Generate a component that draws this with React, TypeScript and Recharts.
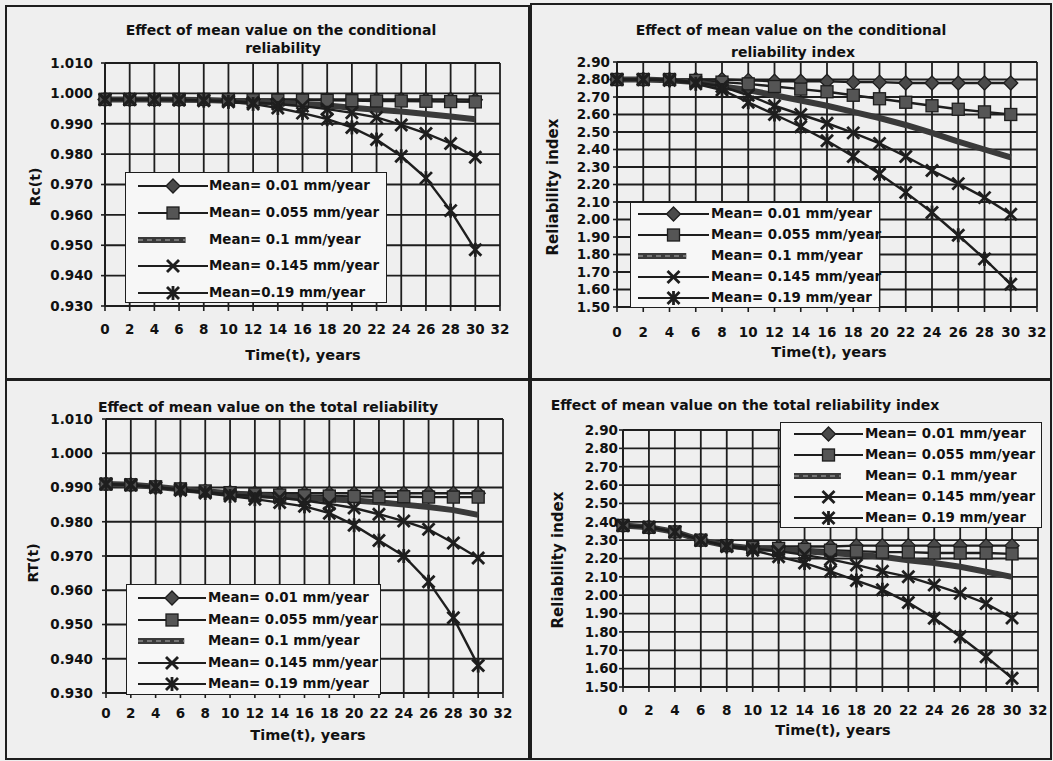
import React from 'react';
import { LineChart, Line, XAxis, YAxis, CartesianGrid } from 'recharts';

// time axis (years)
const years = [0, 2, 4, 6, 8, 10, 12, 14, 16, 18, 20, 22, 24, 26, 28, 30];
const xTicks = [0, 2, 4, 6, 8, 10, 12, 14, 16, 18, 20, 22, 24, 26, 28, 30, 32];
const relTicks = [0.93, 0.94, 0.95, 0.96, 0.97, 0.98, 0.99, 1.0, 1.01];
const idxTicks = [1.5, 1.6, 1.7, 1.8, 1.9, 2.0, 2.1, 2.2, 2.3, 2.4, 2.5, 2.6, 2.7, 2.8, 2.9];

const legendLabels = [
  'Mean= 0.01 mm/year',
  'Mean= 0.055 mm/year',
  'Mean= 0.1 mm/year',
  'Mean= 0.145 mm/year',
  'Mean= 0.19 mm/year',
];
const legendLabelsTL = [
  'Mean= 0.01 mm/year',
  'Mean= 0.055 mm/year',
  'Mean= 0.1 mm/year',
  'Mean= 0.145 mm/year',
  'Mean=0.19 mm/year',
];

// conditional reliability Rc(t)
const rc001 = [0.998, 0.998, 0.998, 0.998, 0.998, 0.998, 0.998, 0.998, 0.998, 0.998, 0.998, 0.998, 0.998, 0.998, 0.998, 0.9979];
const rc0055 = [0.998, 0.998, 0.998, 0.998, 0.998, 0.998, 0.9979, 0.9978, 0.9978, 0.9977, 0.9976, 0.9975, 0.9975, 0.9974, 0.9973, 0.9972];
const rc01 = [0.998, 0.998, 0.998, 0.9979, 0.9978, 0.9976, 0.9973, 0.997, 0.9965, 0.996, 0.9953, 0.9946, 0.994, 0.9932, 0.9924, 0.9915];
const rc0145 = [0.998, 0.998, 0.998, 0.9979, 0.9977, 0.9975, 0.997, 0.9965, 0.9958, 0.9948, 0.9936, 0.9921, 0.9896, 0.9868, 0.9835, 0.979];
const rc019 = [0.998, 0.998, 0.9979, 0.9978, 0.9976, 0.9972, 0.9965, 0.9952, 0.9935, 0.9915, 0.9888, 0.9848, 0.9793, 0.9721, 0.9614, 0.9485];

// conditional reliability index
const rci001 = [2.8, 2.8, 2.8, 2.8, 2.8, 2.795, 2.79, 2.79, 2.79, 2.785, 2.785, 2.78, 2.78, 2.78, 2.78, 2.78];
const rci0055 = [2.8, 2.8, 2.8, 2.795, 2.785, 2.775, 2.76, 2.745, 2.73, 2.71, 2.69, 2.67, 2.65, 2.63, 2.615, 2.6];
const rci01 = [2.8, 2.8, 2.795, 2.785, 2.76, 2.74, 2.71, 2.68, 2.65, 2.615, 2.58, 2.54, 2.495, 2.445, 2.4, 2.355];
const rci0145 = [2.8, 2.8, 2.8, 2.785, 2.76, 2.71, 2.65, 2.6, 2.55, 2.495, 2.435, 2.36, 2.28, 2.205, 2.125, 2.03];
const rci019 = [2.8, 2.8, 2.795, 2.775, 2.74, 2.67, 2.6, 2.53, 2.45, 2.36, 2.26, 2.155, 2.04, 1.91, 1.775, 1.63];

// total reliability RT(t)
const rt001 = [0.991, 0.9908, 0.9902, 0.9896, 0.989, 0.9886, 0.9884, 0.9883, 0.9883, 0.9883, 0.9883, 0.9883, 0.9883, 0.9883, 0.9883, 0.9883];
const rt0055 = [0.991, 0.9908, 0.9902, 0.9896, 0.989, 0.9885, 0.9881, 0.9878, 0.9876, 0.9875, 0.9874, 0.9873, 0.9873, 0.9872, 0.9872, 0.9872];
const rt01 = [0.991, 0.9908, 0.9902, 0.9895, 0.9889, 0.9883, 0.9878, 0.9874, 0.987, 0.9866, 0.9862, 0.9857, 0.985, 0.9843, 0.9834, 0.982];
const rt0145 = [0.991, 0.9908, 0.9901, 0.9894, 0.9887, 0.988, 0.9875, 0.987, 0.9862, 0.9852, 0.984, 0.9822, 0.9802, 0.9778, 0.9738, 0.9694];
const rt019 = [0.991, 0.9907, 0.99, 0.9892, 0.9884, 0.9875, 0.9866, 0.9856, 0.9845, 0.9825, 0.979, 0.9745, 0.97, 0.9625, 0.952, 0.938];

// total reliability index
const rti001 = [2.38, 2.37, 2.345, 2.3, 2.27, 2.265, 2.265, 2.265, 2.265, 2.27, 2.27, 2.27, 2.27, 2.27, 2.27, 2.27];
const rti0055 = [2.38, 2.37, 2.345, 2.3, 2.27, 2.26, 2.255, 2.25, 2.245, 2.24, 2.235, 2.235, 2.23, 2.23, 2.23, 2.225];
const rti01 = [2.38, 2.37, 2.345, 2.3, 2.27, 2.256, 2.25, 2.24, 2.23, 2.22, 2.21, 2.19, 2.175, 2.155, 2.128, 2.1];
const rti0145 = [2.38, 2.37, 2.345, 2.3, 2.27, 2.255, 2.24, 2.22, 2.195, 2.165, 2.13, 2.1, 2.056, 2.01, 1.955, 1.876];
const rti019 = [2.38, 2.37, 2.345, 2.3, 2.265, 2.245, 2.21, 2.175, 2.13, 2.08, 2.03, 1.96, 1.875, 1.774, 1.665, 1.548];

const KINDS = ['diamond', 'square', 'thick', 'x', 'star'];
const INK = '#1e1e1e';
const FONT = '"DejaVu Sans", sans-serif';

const toRows = (series: number[][]) =>
  years.map((t, i) => ({ t, s0: series[0][i], s1: series[1][i], s2: series[2][i], s3: series[3][i], s4: series[4][i] }));

function Marker({ kind, cx, cy }: { kind: string; cx: number; cy: number }) {
  if (kind === 'diamond')
    return <polygon points={`${cx},${cy - 7} ${cx + 7},${cy} ${cx},${cy + 7} ${cx - 7},${cy}`} fill="#4a4a4a" stroke={INK} strokeWidth={1.3} />;
  if (kind === 'square')
    return <rect x={cx - 6} y={cy - 6} width={12} height={12} fill="#555" stroke={INK} strokeWidth={1.3} />;
  if (kind === 'x')
    return (
      <g stroke={INK} strokeWidth={2.8}>
        <line x1={cx - 6} y1={cy - 6} x2={cx + 6} y2={cy + 6} />
        <line x1={cx - 6} y1={cy + 6} x2={cx + 6} y2={cy - 6} />
      </g>
    );
  if (kind === 'star')
    return (
      <g stroke={INK} strokeWidth={2.8}>
        <line x1={cx - 6} y1={cy - 6} x2={cx + 6} y2={cy + 6} />
        <line x1={cx - 6} y1={cy + 6} x2={cx + 6} y2={cy - 6} />
        <line x1={cx} y1={cy - 7} x2={cx} y2={cy + 7} />
      </g>
    );
  return null;
}

type Box = { x: number; y: number; w: number; h: number };

function Legend({ box, labels, rowStart, rowStep, sampleX, sampleW, textX }: any) {
  return (
    <div style={{ position: 'absolute', left: box.x, top: box.y, width: box.w, height: box.h, background: '#f7f7f7', border: `1.5px solid ${INK}`, boxSizing: 'border-box' }}>
      {labels.map((label: string, i: number) => {
        const cy = rowStart - box.y + i * rowStep;
        const kind = KINDS[i];
        return (
          <React.Fragment key={label}>
            <svg style={{ position: 'absolute', left: sampleX - box.x, top: cy - 10, overflow: 'visible' }} width={sampleW} height={20}>
              {kind === 'thick' ? (
                <g>
                  <line x1={0} y1={10} x2={sampleW * 0.68} y2={10} stroke="#3a3a3a" strokeWidth={6} />
                  <line x1={0} y1={10} x2={sampleW * 0.68} y2={10} stroke="#8a8a8a" strokeWidth={1.5} strokeDasharray="5 4" />
                </g>
              ) : (
                <g>
                  <line x1={0} y1={10} x2={sampleW} y2={10} stroke={INK} strokeWidth={2.2} />
                  <Marker kind={kind} cx={sampleW / 2} cy={10} />
                </g>
              )}
            </svg>
            <div style={{ position: 'absolute', left: textX - box.x, top: cy - 9, height: 18, lineHeight: '18px', fontFamily: FONT, fontWeight: 700, fontSize: 13.4, color: '#111', whiteSpace: 'nowrap' }}>
              {label}
            </div>
          </React.Fragment>
        );
      })}
    </div>
  );
}

function Label({ text, cx, cy, size = 14, rotate = false }: any) {
  return (
    <div
      style={{
        position: 'absolute',
        left: cx,
        top: cy,
        transform: `translate(-50%, -50%)${rotate ? ' rotate(-90deg)' : ''}`,
        fontFamily: FONT,
        fontWeight: 700,
        fontSize: size,
        color: '#111',
        whiteSpace: 'nowrap',
      }}
    >
      {text}
    </div>
  );
}

function Panel({ box, plot, rows, ticks, digits, xMargin, yMargin }: any) {
  const yW = 60;
  const xH = 30;
  const margin = {
    left: plot.l - box.x - yW,
    top: plot.t - box.y,
    right: box.x + box.w - plot.r,
    bottom: box.y + box.h - plot.b - xH,
  };
  const tick = { fill: '#111', fontSize: 13.5, fontWeight: 700, fontFamily: FONT };
  return (
    <div style={{ position: 'absolute', left: box.x, top: box.y }}>
      <LineChart width={box.w} height={box.h} data={rows} margin={margin}>
        <CartesianGrid stroke={INK} strokeWidth={1.8} />
        <XAxis
          dataKey="t"
          type="number"
          domain={[0, 32]}
          ticks={xTicks}
          interval={0}
          height={xH}
          tick={tick}
          tickSize={5}
          tickMargin={xMargin}
          axisLine={{ stroke: INK, strokeWidth: 2 }}
          tickLine={{ stroke: INK, strokeWidth: 1.6 }}
        />
        <YAxis
          type="number"
          domain={[ticks[0], ticks[ticks.length - 1]]}
          ticks={ticks}
          interval={0}
          width={yW}
          tick={tick}
          tickSize={4}
          tickMargin={yMargin}
          tickFormatter={(v: number) => v.toFixed(digits)}
          axisLine={{ stroke: INK, strokeWidth: 2 }}
          tickLine={{ stroke: INK, strokeWidth: 1.6 }}
        />
        {['s0', 's1', 's2', 's3', 's4'].map((key, i) =>
          KINDS[i] === 'thick' ? (
            <Line key={key} dataKey={key} type="linear" stroke="#3a3a3a" strokeWidth={6} dot={false} isAnimationActive={false} />
          ) : (
            <Line
              key={key}
              dataKey={key}
              type="linear"
              stroke={INK}
              strokeWidth={2.4}
              isAnimationActive={false}
              dot={(p: any) => <Marker key={`${key}-${p.index}`} kind={KINDS[i]} cx={p.cx} cy={p.cy} />}
            />
          )
        )}
      </LineChart>
    </div>
  );
}

const frame = (b: Box) => (
  <div style={{ position: 'absolute', left: b.x, top: b.y, width: b.w, height: b.h, border: `2px solid ${INK}`, boxSizing: 'border-box' }} />
);

export default function App() {
  const b1 = { x: 5, y: 5, w: 525, h: 375 };
  const b2 = { x: 530, y: 3, w: 522, h: 377 };
  const b3 = { x: 5, y: 379, w: 525, h: 381 };
  const b4 = { x: 530, y: 379, w: 522, h: 381 };
  return (
    <div style={{ position: 'absolute', left: 0, top: 0, width: 1053, height: 761, background: '#efefef', overflow: 'hidden' }}>
      {frame(b1)}
      {frame(b2)}
      {frame(b3)}
      {frame(b4)}

      <Panel box={b1} plot={{ l: 105, t: 63, r: 500, b: 306 }} rows={toRows([rc001, rc0055, rc01, rc0145, rc019])} ticks={relTicks} digits={3} xMargin={13} yMargin={8} />
      <Label text="Effect of mean value on the conditional" cx={281} cy={30} />
      <Label text="reliability" cx={283} cy={48} />
      <Label text="Rc(t)" cx={35} cy={187} rotate />
      <Label text="Time(t), years" cx={303} cy={355} size={14.5} />
      <Legend box={{ x: 125, y: 172, w: 262, h: 131 }} labels={legendLabelsTL} rowStart={185} rowStep={26.75} sampleX={137} sampleW={70} textX={208} />

      <Panel box={b2} plot={{ l: 617, t: 62, r: 1037, b: 307 }} rows={toRows([rci001, rci0055, rci01, rci0145, rci019])} ticks={idxTicks} digits={2} xMargin={15} yMargin={3} />
      <Label text="Effect of mean value on the conditional" cx={791} cy={30} />
      <Label text="reliability index" cx={793} cy={52} />
      <Label text="Reliability index" cx={553} cy={187} size={15} rotate />
      <Label text="Time(t), years" cx={829} cy={352} size={14.5} />
      <Legend box={{ x: 630, y: 202, w: 250, h: 106 }} labels={legendLabels} rowStart={213} rowStep={21} sampleX={637} sampleW={71} textX={710} />

      <Panel box={b3} plot={{ l: 106, t: 419, r: 503, b: 693 }} rows={toRows([rt001, rt0055, rt01, rt0145, rt019])} ticks={relTicks} digits={3} xMargin={10} yMargin={9} />
      <Label text="Effect of mean value on the total reliability" cx={268} cy={407} />
      <Label text="RT(t)" cx={33} cy={563} rotate />
      <Label text="Time(t), years" cx={308} cy={735} size={14.5} />
      <Legend box={{ x: 126, y: 584, w: 255, h: 111 }} labels={legendLabels} rowStart={597} rowStep={21.5} sampleX={137} sampleW={68} textX={207} />

      <Panel box={b4} plot={{ l: 623, t: 430, r: 1038, b: 687 }} rows={toRows([rti001, rti0055, rti01, rti0145, rti019])} ticks={idxTicks} digits={2} xMargin={13} yMargin={1} />
      <Label text="Effect of mean value on the total reliability index" cx={745} cy={405} />
      <Label text="Reliability index" cx={558} cy={560} size={15} rotate />
      <Label text="Time(t), years" cx={833} cy={730} size={14.5} />
      <Legend box={{ x: 780, y: 422, w: 262, h: 106 }} labels={legendLabels} rowStart={433} rowStep={21} sampleX={793} sampleW={69} textX={864} />
    </div>
  );
}
